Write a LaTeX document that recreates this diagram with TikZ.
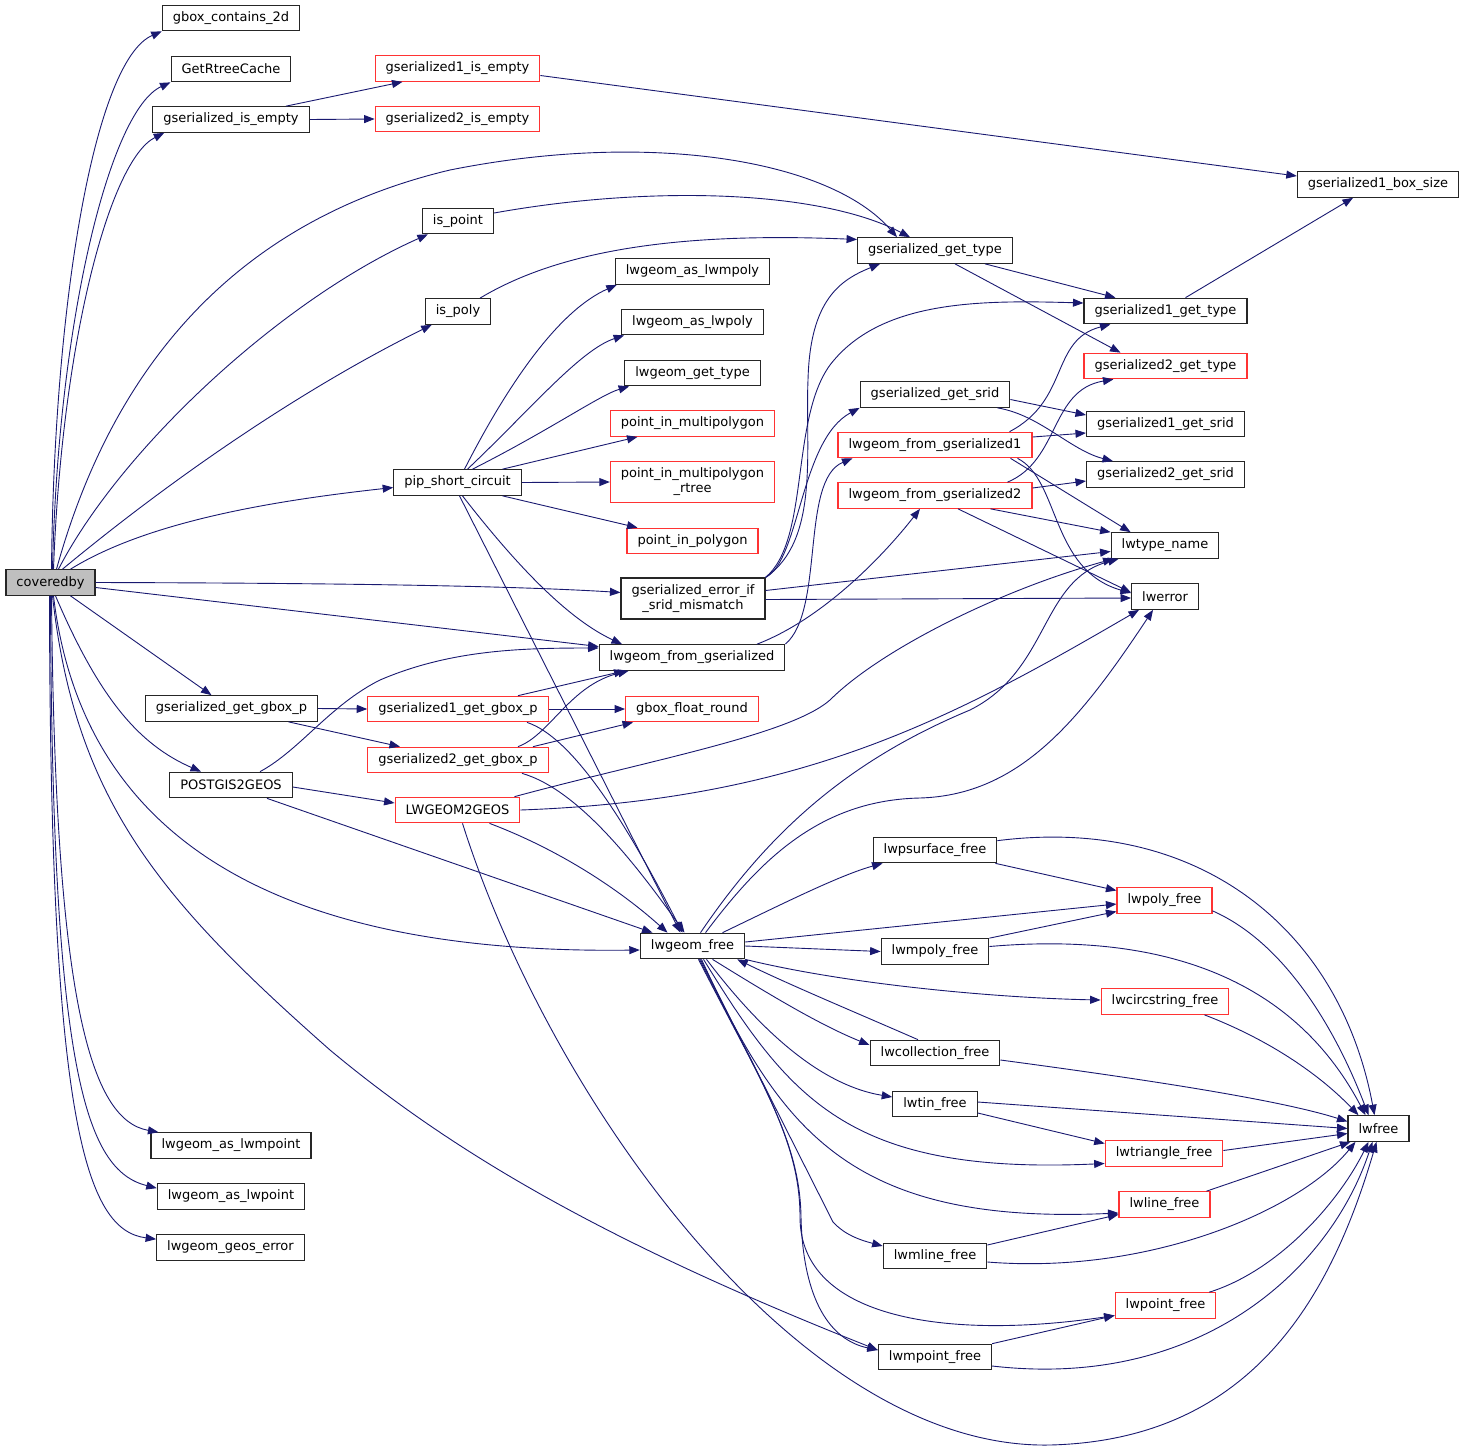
\documentclass[tikz,border=0pt]{standalone}
\usepackage{fontspec}
\setmainfont{DejaVu Sans}
\usetikzlibrary{arrows.meta}
\definecolor{edgeblue}{HTML}{191970}
\definecolor{boxgray}{HTML}{BFBFBF}
\definecolor{boxred}{HTML}{FF3333}
\tikzset{
  fn/.style={draw=black!85, line width=1.2pt, fill=white, inner xsep=10.5pt, inner ysep=2pt,
    minimum height=25.5pt, font=\fontsize{13}{15}\selectfont, align=center},
  fnred/.style={fn, draw=boxred},
  fnmain/.style={fn, fill=boxgray},
  call/.style={draw=edgeblue, line width=0.9pt, -{Triangle[length=10.5pt,width=8pt]}}
}

\begin{document}
\begin{tikzpicture}[x=1pt,y=-1pt]
\useasboundingbox (0,0) rectangle (1467,1454);
%%%%% NODES %%%%%
\node[fnmain] (cov) at (50.5,582.5) {coveredby};
\node[fn] (gboxc) at (231,18) {gbox\_contains\_2d};
\node[fn] (rtree) at (231,69) {GetRtreeCache};
\node[fn] (isempty) at (231,119.5) {gserialized\_is\_empty};
\node[fnred] (ge1empty) at (457.5,68.5) {gserialized1\_is\_empty};
\node[fnred] (ge2empty) at (457.5,119) {gserialized2\_is\_empty};
\node[fn] (g1boxsize) at (1378,184.5) {gserialized1\_box\_size};
\node[fn] (ispoint) at (458,221) {is\_point};
\node[fn] (ispoly) at (458,311.5) {is\_poly};
\node[fn] (getype) at (935,250.5) {gserialized\_get\_type};
\node[fn] (asmpoly) at (692.5,271.5) {lwgeom\_as\_lwmpoly};
\node[fn] (aspoly) at (692.5,322) {lwgeom\_as\_lwpoly};
\node[fn] (gettype) at (692.5,373) {lwgeom\_get\_type};
\node[fnred] (pimp) at (692.5,423.5) {point\_in\_multipolygon};
\node[fnred, minimum height=41pt] (pimprtree) at (692.5,482) {point\_in\_multipolygon\\\_rtree};
\node[fnred] (pip) at (692.5,541) {point\_in\_polygon};
\node[fn] (pipsc) at (457.5,482.5) {pip\_short\_circuit};
\node[fn] (g1type) at (1165.5,311) {gserialized1\_get\_type};
\node[fnred] (g2type) at (1165.5,366) {gserialized2\_get\_type};
\node[fn] (getsrid) at (935,394.5) {gserialized\_get\_srid};
\node[fn] (g1srid) at (1165.5,424) {gserialized1\_get\_srid};
\node[fn] (g2srid) at (1165.5,474.5) {gserialized2\_get\_srid};
\node[fnred] (fromg1) at (935,445) {lwgeom\_from\_gserialized1};
\node[fnred] (fromg2) at (935,495.5) {lwgeom\_from\_gserialized2};
\node[fn] (typename) at (1165,545.5) {lwtype\_name};
\node[fn] (lwerr) at (1165,596.5) {lwerror};
\node[fn, minimum height=41pt] (sridmm) at (693,598.5) {gserialized\_error\_if\\\_srid\_mismatch};
\node[fn] (fromg) at (692,657.5) {lwgeom\_from\_gserialized};
\node[fn] (getgbox) at (231.5,708.5) {gserialized\_get\_gbox\_p};
\node[fnred] (g1gbox) at (458,709) {gserialized1\_get\_gbox\_p};
\node[fnred] (g2gbox) at (458,760) {gserialized2\_get\_gbox\_p};
\node[fnred] (gboxround) at (692,709) {gbox\_float\_round};
\node[fn] (pg2geos) at (231,785) {POSTGIS2GEOS};
\node[fnred] (lw2geos) at (457.5,810) {LWGEOM2GEOS};
\node[fn] (psurffree) at (935,850) {lwpsurface\_free};
\node[fn] (geomfree) at (692.5,946) {lwgeom\_free};
\node[fn] (mpolyfree) at (935,951.5) {lwmpoly\_free};
\node[fn] (collfree) at (935,1053) {lwcollection\_free};
\node[fn] (tinfree) at (935,1104) {lwtin\_free};
\node[fnred] (polyfree) at (1164.5,900.5) {lwpoly\_free};
\node[fnred] (circfree) at (1165,1001.5) {lwcircstring\_free};
\node[fn] (lwfreen) at (1378.5,1128.5) {lwfree};
\node[fnred] (trifree) at (1164,1153.5) {lwtriangle\_free};
\node[fnred] (linefree) at (1164.5,1204.5) {lwline\_free};
\node[fn] (mlinefree) at (935,1256) {lwmline\_free};
\node[fnred] (pointfree) at (1165.5,1305.5) {lwpoint\_free};
\node[fn] (mpointfree) at (935,1357) {lwmpoint\_free};
\node[fn] (asmpoint) at (231,1145.5) {lwgeom\_as\_lwmpoint};
\node[fn] (aspoint) at (231,1196.5) {lwgeom\_as\_lwpoint};
\node[fn] (geoserr) at (230.5,1247.5) {lwgeom\_geos\_error};
%%%%% CALLS FROM coveredby %%%%%
\draw[call] ([xshift=1]cov.north) .. controls (54,300) and (95,60) .. (gboxc.south west);
\draw[call] ([xshift=2]cov.north) .. controls (58,320) and (110,110) .. (rtree.south west);
\draw[call] ([xshift=3]cov.north) .. controls (62,340) and (110,160) .. ([xshift=12]isempty.south west);
\draw[call] ([xshift=6]cov.north) .. controls (120,340) and (260,215) .. (450,170) .. controls (650,130) and (830,160) .. ([xshift=-38]getype.north);
\draw[call] ([xshift=8]cov.north) .. controls (120,450) and (280,300) .. ([xshift=6]ispoint.south west);
\draw[call] ([xshift=12]cov.north) .. controls (170,480) and (300,390) .. ([xshift=7]ispoly.south west);
\draw[call] ([xshift=20]cov.north) .. controls (150,520) and (280,500) .. ([yshift=-5]pipsc.west);
\draw[call] (cov.east) .. controls (300,583) and (500,585) .. ([yshift=6]sridmm.west);
\draw[call] ([yshift=-5]cov.east) -- ([yshift=11]fromg.west);
\draw[call] ([xshift=20]cov.south) -- ([xshift=-20]getgbox.north);
\draw[call] ([xshift=5]cov.south) .. controls (100,700) and (140,745) .. ([xshift=-30]pg2geos.north);
\draw[call] ([xshift=3]cov.south) .. controls (80,820) and (250,955) .. ([yshift=-4]geomfree.west);
\draw[call] ([xshift=2]cov.south) .. controls (75,800) and (160,900) .. (330,1050) .. controls (450,1150) and (600,1240) .. ([yshift=7]mpointfree.west);
\draw[call] ([xshift=1]cov.south) .. controls (55,1000) and (90,1120) .. ([xshift=8]asmpoint.north west);
\draw[call] (cov.south) .. controls (52,1070) and (85,1170) .. ([yshift=-5]aspoint.north west);
\draw[call] ([xshift=-1]cov.south) .. controls (50,1120) and (85,1230) .. ([yshift=-5]geoserr.north west);
%%%%% UPPER PART %%%%%
\draw[call] ([xshift=55]isempty.north) -- ([xshift=-55]ge1empty.south);
\draw[call] (isempty.east) -- (ge2empty.west);
\draw[call] ([yshift=-7]ge1empty.east) -- ([yshift=8.5]g1boxsize.west);
\draw[call] ([xshift=20]g1type.north) -- ([xshift=-25]g1boxsize.south);
\draw[call] ([yshift=8]ispoint.east) .. controls (650,185) and (820,190) .. ([xshift=-25]getype.north);
\draw[call] ([xshift=22]ispoly.north) .. controls (560,250) and (680,232) .. ([yshift=11]getype.west);
\draw[call] ([xshift=50]getype.south) -- ([xshift=-50]g1type.north);
\draw[call] ([xshift=20]getype.south) -- ([xshift=-45]g2type.north);
%%%%% pip_short_circuit %%%%%
\draw[call] ([xshift=7]pipsc.north) .. controls (510,380) and (560,310) .. ([xshift=2]asmpoly.south west);
\draw[call] ([xshift=10]pipsc.north) .. controls (530,410) and (580,350) .. ([xshift=3]aspoly.south west);
\draw[call] ([xshift=15]pipsc.north) .. controls (550,430) and (600,395) .. ([xshift=5]gettype.south west);
\draw[call] ([xshift=45]pipsc.north) -- ([xshift=-55]pimp.south);
\draw[call] (pipsc.east) -- (pimprtree.west);
\draw[call] ([xshift=45]pipsc.south) -- ([xshift=-55]pip.north);
\draw[call] ([xshift=5]pipsc.south) .. controls (520,570) and (570,620) .. ([xshift=-70]fromg.north);
\draw[call] ([xshift=2]pipsc.south) -- ([xshift=-12]geomfree.north);
%%%%% gserialized_error_if_srid_mismatch %%%%%
\draw[call] (sridmm.north east) .. controls (800,560) and (800,440) .. (getsrid.south west);
\draw[call] (sridmm.north east) .. controls (810,540) and (790,420) .. (830,365) .. controls (880,300) and (980,300) .. ([yshift=8]g1type.west);
\draw[call] (sridmm.north east) .. controls (820,540) and (805,450) .. (808,380) .. controls (810,300) and (840,280) .. ([xshift=-55]getype.south);
\draw[call] ([yshift=8]sridmm.east) -- ([yshift=-6]typename.west);
\draw[call] ([yshift=-1]sridmm.east) -- ([yshift=-1.5]lwerr.west);
%%%%% lwgeom_from_gserialized %%%%%
\draw[call] (fromg.north east) .. controls (825,610) and (800,480) .. ([xshift=15]fromg1.south west);
\draw[call] ([xshift=65]fromg.north) .. controls (820,620) and (880,560) .. ([xshift=-15]fromg2.south);
\draw[call] ([yshift=-5]getsrid.east) -- ([yshift=9]g1srid.west);
\draw[call] ([xshift=-13]getsrid.south east) .. controls (1040,415) and (1070,450) .. ([xshift=27]g2srid.north west);
\draw[call] ([xshift=-23]fromg1.north east) .. controls (1070,400) and (1050,340) .. ([xshift=27]g1type.south west);
\draw[call] ([yshift=8]fromg1.east) -- ([yshift=-9]g1srid.west);
\draw[call] ([xshift=-22]fromg1.south east) -- ([xshift=20]typename.north west);
\draw[call] ([xshift=-15]fromg1.south east) .. controls (1060,480) and (1050,570) .. ([yshift=3.5]lwerr.west);
\draw[call] ([xshift=-25]fromg2.north east) .. controls (1060,460) and (1050,390) .. ([xshift=30]g2type.south west);
\draw[call] ([yshift=7.5]fromg2.east) -- ([yshift=-6.5]g2srid.west);
\draw[call] ([xshift=-42]fromg2.south east) -- (typename.north west);
\draw[call] ([xshift=23]fromg2.south) -- ([yshift=4]lwerr.west);
%%%%% gbox %%%%%
\draw[call] (getgbox.east) -- (g1gbox.west);
\draw[call] ([xshift=57]getgbox.south) -- ([xshift=-58]g2gbox.north);
\draw[call] ([xshift=60]g1gbox.north) -- ([xshift=26]fromg.south west);
\draw[call] (g1gbox.east) -- (gboxround.west);
\draw[call] ([xshift=69]g1gbox.south) .. controls (580,740) and (640,850) .. ([xshift=-10]geomfree.north);
\draw[call] ([xshift=60]g2gbox.north) .. controls (550,735) and (570,685) .. ([xshift=30]fromg.south west);
\draw[call] ([xshift=75]g2gbox.north) -- ([xshift=8]gboxround.south west);
\draw[call] ([xshift=64]g2gbox.south) .. controls (580,790) and (640,870) .. ([xshift=-8]geomfree.north);
%%%%% POSTGIS2GEOS / LWGEOM2GEOS %%%%%
\draw[call] ([xshift=29]pg2geos.north) .. controls (300,750) and (330,705) .. (380,680) .. controls (450,650) and (520,648) .. ([yshift=9.5]fromg.west);
\draw[call] ([yshift=-2]pg2geos.east) -- ([yshift=7]lw2geos.west);
\draw[call] ([xshift=36]pg2geos.south) -- ([xshift=-40]geomfree.north);
\draw[call] ([xshift=57]lw2geos.north) .. controls (650,760) and (790,735) .. (830,700) .. controls (880,650) and (1000,590) .. ([xshift=3]typename.south west);
\draw[call] (lw2geos.east) .. controls (800,800) and (950,720) .. ([xshift=8]lwerr.south west);
\draw[call] ([xshift=32]lw2geos.south) .. controls (560,850) and (620,890) .. ([xshift=-25]geomfree.north);
\draw[call] ([xshift=5]lw2geos.south) .. controls (550,1100) and (800,1450) .. (1050,1445) .. controls (1250,1440) and (1330,1300) .. ([xshift=-2]lwfreen.south);
%%%%% lwgeom_free %%%%%
\draw[call] ([xshift=8]geomfree.north) .. controls (770,830) and (850,760) .. (970,710) .. controls (1050,670) and (1040,580) .. ([xshift=8]typename.south west);
\draw[call] ([xshift=13]geomfree.north) .. controls (760,860) and (820,800) .. (920,798) .. controls (1020,795) and (1080,720) .. ([xshift=22]lwerr.south west);
\draw[call] ([xshift=30]geomfree.north) .. controls (780,905) and (840,875) .. ([xshift=10]psurffree.south west);
\draw[call] ([yshift=4]geomfree.east) -- ([yshift=-3.5]polyfree.west);
\draw[call] (geomfree.east) -- (mpolyfree.west);
\draw[call] (geomfree.south east) .. controls (850,985) and (1000,998) .. ([yshift=1.5]circfree.west);
\draw[call] ([xshift=20]geomfree.south) .. controls (770,995) and (820,1025) .. ([yshift=8]collfree.west);
\draw[call] ([xshift=-17]collfree.north) .. controls (850,1010) and (790,985) .. ([xshift=-8]geomfree.south east);
\draw[call] ([xshift=14]geomfree.south) .. controls (760,1030) and (820,1085) .. ([yshift=7]tinfree.west);
\draw[call] ([xshift=11]geomfree.south) .. controls (790,1100) and (850,1175) .. ([yshift=-10]trifree.west);
\draw[call] ([xshift=9]geomfree.south) .. controls (780,1130) and (850,1225) .. ([yshift=-8.5]linefree.west);
\draw[call] ([xshift=8]geomfree.south) -- (833,1222) .. controls (845,1235) and (860,1240) .. ([yshift=10]mlinefree.west);
\draw[call] ([xshift=7]geomfree.south) .. controls (760,1080) and (800,1140) .. (800,1217) .. controls (800,1320) and (950,1340) .. ([yshift=-10]pointfree.west);
\draw[call] ([xshift=6]geomfree.south) .. controls (760,1080) and (800,1140) .. (801,1217) .. controls (803,1300) and (830,1340) .. ([yshift=7]mpointfree.west);
%%%%% down to lwfree %%%%%
\draw[call] ([xshift=-2]psurffree.south east) -- ([yshift=10]polyfree.west);
\draw[call] ([yshift=-4]psurffree.north east) .. controls (1200,815) and (1340,930) .. ([xshift=-4]lwfreen.north);
\draw[call] ([yshift=3]polyfree.south east) .. controls (1290,945) and (1340,1040) .. ([xshift=-10]lwfreen.north);
\draw[call] (mpolyfree.north east) -- ([yshift=-11]polyfree.west);
\draw[call] ([yshift=5]mpolyfree.east) .. controls (1180,930) and (1300,990) .. ([xshift=-13]lwfreen.north);
\draw[call] ([xshift=-25]circfree.south east) .. controls (1270,1040) and (1320,1075) .. ([xshift=-20]lwfreen.north);
\draw[call] ([yshift=-7]collfree.east) .. controls (1150,1080) and (1280,1100) .. ([yshift=7]lwfreen.west);
\draw[call] ([yshift=2]tinfree.east) -- ([yshift=0]lwfreen.west);
\draw[call] ([yshift=-9]tinfree.east) -- ([yshift=10]trifree.west);
\draw[call] ([yshift=3]trifree.east) -- ([yshift=-5]lwfreen.west);
\draw[call] ([xshift=-4]linefree.north east) -- ([xshift=3]lwfreen.south west);
\draw[call] ([yshift=11]mlinefree.east) -- ([yshift=-10]linefree.west);
\draw[call] ([yshift=-6]mlinefree.east) .. controls (1150,1275) and (1300,1210) .. ([xshift=8]lwfreen.south west);
\draw[call] ([xshift=-7]pointfree.north east) .. controls (1280,1270) and (1340,1200) .. ([xshift=-10]lwfreen.south);
\draw[call] (mpointfree.north east) -- ([yshift=-10]pointfree.west);
\draw[call] ([yshift=-9]mpointfree.east) .. controls (1200,1390) and (1330,1270) .. ([xshift=-6]lwfreen.south);
\end{tikzpicture}
\end{document}
